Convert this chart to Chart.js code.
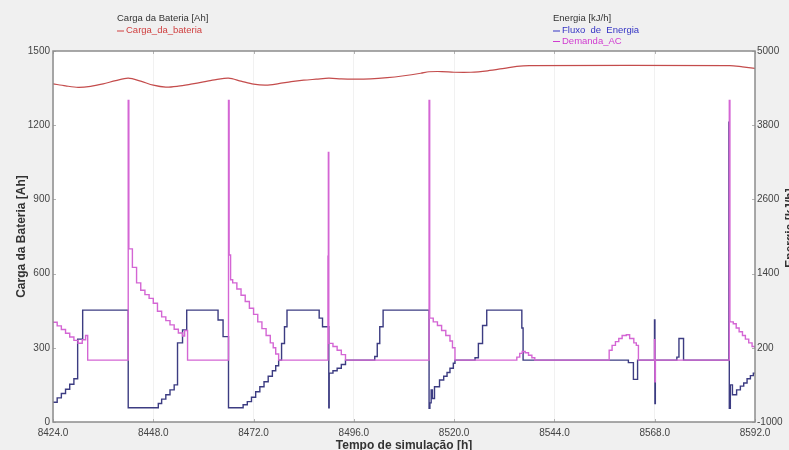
<!DOCTYPE html>
<html>
<head>
<meta charset="utf-8">
<script src="https://cdn.jsdelivr.net/npm/chart.js@4/dist/chart.umd.min.js"></script>
<style>
  html, body { margin: 0; padding: 0; background: #f0f0f0; overflow: hidden; }
  canvas { display: block; }
</style>
</head>
<body>
<canvas id="chart" width="789" height="450"></canvas>
<script>
// Battery charge [Ah] (left axis)
const chargeHours = [8424, 8427, 8430, 8433, 8436, 8439, 8442, 8445, 8448, 8451, 8454, 8457, 8460, 8463, 8466,
  8469, 8472, 8475, 8478, 8481, 8484, 8487, 8490, 8493, 8496, 8500, 8504, 8508, 8512, 8514, 8517, 8520, 8524,
  8528, 8532, 8535, 8538, 8586, 8589, 8592];
const chargeAh = [1367, 1359, 1353, 1357, 1367, 1380, 1390, 1378, 1362, 1354, 1358, 1366, 1375, 1384, 1390,
  1378, 1366, 1362, 1368, 1376, 1382, 1386, 1390, 1387, 1386, 1387, 1392, 1400, 1410, 1416, 1417, 1414, 1414,
  1420, 1430, 1438, 1441, 1441, 1436, 1430];

// Energy flow [kJ/h] (right axis), each value holds until the next time mark
const flowHours = [8424, 8425, 8426, 8427, 8428, 8429, 8429.9, 8431.1, 8442, 8449.2, 8450, 8451, 8452, 8453,
  8453.8, 8455, 8456, 8463.5, 8464.7, 8466, 8469.5, 8470.5, 8471.5, 8472.5, 8473.5, 8474.5, 8475.5, 8476.5,
  8477.3, 8478, 8478.7, 8479.4, 8480, 8487.7, 8488.5, 8490, 8490.1, 8491, 8492, 8493, 8494, 8501, 8501.6,
  8502.2, 8503, 8514, 8514.2, 8514.5, 8514.8, 8515.3, 8516.5, 8517.5, 8518.3, 8519, 8519.8, 8520.2, 8525,
  8525.8, 8526.8, 8527.8, 8536.2, 8536.5, 8561.7, 8562.9, 8563.9, 8567.95, 8568.05, 8568.15, 8573.3, 8573.8,
  8574.9, 8585.75, 8585.85, 8586.1, 8586.6, 8587.6, 8588.5, 8589.3, 8590.1, 8590.9, 8591.6, 8592];
const flowKJh = [-680, -610, -540, -470, -390, -300, 340, 810, -770, -700, -630, -560, -480, -400,
  280, 490, 810, 650, 380, -770, -720, -670, -600, -510, -430, -350, -260, -170,
  -90, 0, 270, 540, 810, 680, 540, -770, -210, -170, -130, -70, 0, 60, 270,
  540, 810, -780, -690, -480, -620, -430, -320, -260, -200, -130, -50, 0, 40,
  270, 560, 810, 520, 0, -40, -310, 0, 650, -700, 0, 50, 350,
  0, 3850, -780, -400, -560, -480, -420, -370, -300, -250, -210, -210];

// AC demand [kJ/h] (right axis)
const demandHours = [8424, 8425, 8426, 8427, 8428, 8429, 8430, 8431, 8431.8, 8432.3, 8442, 8442.15, 8443, 8444,
  8445, 8446, 8447, 8448, 8449, 8450, 8451, 8452, 8453, 8454, 8455, 8455.5, 8456.2, 8466, 8466.15, 8466.5,
  8467, 8468, 8469, 8470, 8471, 8472, 8473, 8474, 8475, 8476, 8476.7, 8477.3, 8478, 8489.8, 8489.9, 8490,
  8491, 8492, 8493, 8494, 8514, 8514.15, 8515, 8516, 8517, 8518, 8519, 8519.6, 8520.2, 8535, 8535.7, 8536.3,
  8537, 8537.8, 8538.6, 8539.3, 8557.1, 8557.8, 8558.6, 8559.4, 8560.2, 8561.2, 8562, 8563, 8563.6, 8564.1,
  8567.95, 8568.05, 8568.15, 8585.85, 8586, 8586.8, 8587.5, 8588.2, 8589, 8589.7, 8590.5, 8591.3, 8592];
const demandKJh = [612, 555, 495, 435, 375, 320, 273, 330, 400, 0, 4200, 1800, 1500, 1250,
  1130, 1060, 1000, 920, 790, 700, 640, 570, 500, 440, 390, 480, 0, 4200, 1700, 1300,
  1250, 1150, 1050, 950, 840, 740, 620, 510, 400, 280, 200, 100, 0, 1680, 3360, 272,
  220, 160, 90, 0, 4200, 680, 620, 560, 480, 400, 310, 200, 0, 50, 110, 140,
  120, 80, 40, 0, 160, 240, 300, 350, 400, 410, 350, 280, 240, 0,
  330, -350, 0, 4200, 620, 590, 520, 460, 400, 340, 280, 220, 190];

const FONT = '"Liberation Sans", Arial, Helvetica, sans-serif';
const pts = (xs, ys) => xs.map((x, i) => ({ x: x, y: ys[i] }));

const decor = {
  id: 'decor',
  beforeDraw(chart) {
    const { ctx, chartArea: a } = chart;
    ctx.save();
    ctx.fillStyle = '#f0f0f0';
    ctx.fillRect(0, 0, chart.width, chart.height);
    ctx.fillStyle = '#ffffff';
    ctx.fillRect(a.left, a.top, a.right - a.left, a.bottom - a.top);
    ctx.restore();
  },
  afterDatasetsDraw(chart) {
    const { ctx, chartArea: a, scales } = chart;
    ctx.save();
    // small inward tick marks
    ctx.strokeStyle = '#b4b4b4';
    ctx.lineWidth = 1;
    ctx.beginPath();
    scales.x.ticks.forEach(t => {
      const px = Math.round(scales.x.getPixelForValue(t.value)) + 0.5;
      ctx.moveTo(px, a.top); ctx.lineTo(px, a.top + 3);
      ctx.moveTo(px, a.bottom); ctx.lineTo(px, a.bottom - 3);
    });
    scales.y.ticks.forEach(t => {
      const py = Math.round(scales.y.getPixelForValue(t.value)) + 0.5;
      ctx.moveTo(a.left, py); ctx.lineTo(a.left + 3, py);
    });
    scales.y1.ticks.forEach(t => {
      const py = Math.round(scales.y1.getPixelForValue(t.value)) + 0.5;
      ctx.moveTo(a.right, py); ctx.lineTo(a.right - 3, py);
    });
    ctx.stroke();
    // plot frame
    ctx.strokeStyle = '#8c8c8c';
    ctx.lineWidth = 1.5;
    ctx.strokeRect(a.left, a.top, a.right - a.left, a.bottom - a.top);
    ctx.restore();
  },
  afterDraw(chart) {
    const { ctx, chartArea: a } = chart;
    ctx.save();
    ctx.textBaseline = 'middle';

    // legend blocks
    ctx.font = '9.5px ' + FONT;
    ctx.textAlign = 'left';
    ctx.fillStyle = '#333333';
    ctx.fillText('Carga da Bateria [Ah]', 117, 18);
    ctx.fillText('Energia [kJ/h]', 553, 18);

    const entry = (x, y, color, label) => {
      ctx.strokeStyle = color;
      ctx.lineWidth = 1;
      ctx.beginPath();
      ctx.moveTo(x, y + 0.5); ctx.lineTo(x + 7, y + 0.5);
      ctx.stroke();
      ctx.fillStyle = color;
      ctx.fillText(label, x + 9, y);
    };
    entry(117, 30.5, '#d04040', 'Carga_da_bateria');
    entry(553, 30.5, '#3434c4', 'Fluxo  de  Energia');
    entry(553, 41, '#d03cd0', 'Demanda_AC');

    // axis titles
    ctx.font = 'bold 12px ' + FONT;
    ctx.fillStyle = '#333333';
    ctx.textAlign = 'center';
    ctx.fillText('Tempo de simulação [h]', (a.left + a.right) / 2, 446);

    ctx.save();
    ctx.translate(22, (a.top + a.bottom) / 2);
    ctx.rotate(-Math.PI / 2);
    ctx.fillText('Carga da Bateria [Ah]', 0, 0);
    ctx.restore();

    ctx.save();
    ctx.translate(791, 228);
    ctx.rotate(-Math.PI / 2);
    ctx.fillText('Energia [kJ/h]', 0, 0);
    ctx.restore();

    ctx.restore();
  }
};

new Chart(document.getElementById('chart'), {
  type: 'line',
  data: {
    datasets: [
      {
        label: 'Demanda_AC',
        data: pts(demandHours, demandKJh),
        yAxisID: 'y1',
        borderColor: '#d466d4',
        borderWidth: 1.4,
        stepped: 'before',
        pointRadius: 0,
        order: 0
      },
      {
        label: 'Carga_da_bateria',
        data: pts(chargeHours, chargeAh),
        yAxisID: 'y',
        borderColor: '#c44c4c',
        borderWidth: 1.2,
        tension: 0.3,
        pointRadius: 0,
        order: 1
      },
      {
        label: 'Fluxo de Energia',
        data: pts(flowHours, flowKJh),
        yAxisID: 'y1',
        borderColor: '#3c3c82',
        borderWidth: 1.4,
        stepped: 'before',
        pointRadius: 0,
        order: 2
      }
    ]
  },
  options: {
    responsive: false,
    animation: false,
    devicePixelRatio: 1,
    layout: { padding: { top: 51, left: 0, right: 0, bottom: 0 } },
    plugins: { legend: { display: false }, tooltip: { enabled: false }, title: { display: false } },
    scales: {
      x: {
        type: 'linear',
        min: 8424,
        max: 8592,
        afterFit(s) { s.height = 28; },
        grid: { color: '#f1f1f1', drawTicks: false },
        border: { display: false },
        ticks: {
          stepSize: 24,
          autoSkip: false,
          maxRotation: 0,
          padding: 5,
          color: '#444444',
          font: { family: FONT, size: 10 },
          callback: v => Number(v).toFixed(1)
        }
      },
      y: {
        position: 'left',
        min: 0,
        max: 1500,
        afterFit(s) { s.width = 53; },
        grid: { display: false, drawTicks: false },
        border: { display: false },
        ticks: {
          stepSize: 300, padding: 3, color: '#444444', font: { family: FONT, size: 10 },
          callback: v => String(v)
        }
      },
      y1: {
        position: 'right',
        min: -1000,
        max: 5000,
        afterFit(s) { s.width = 34; },
        grid: { display: false, drawTicks: false },
        border: { display: false },
        ticks: {
          stepSize: 1200, padding: 2, color: '#444444', font: { family: FONT, size: 10 },
          callback: v => String(v)
        }
      }
    }
  },
  plugins: [decor]
});
</script>
</body>
</html>
